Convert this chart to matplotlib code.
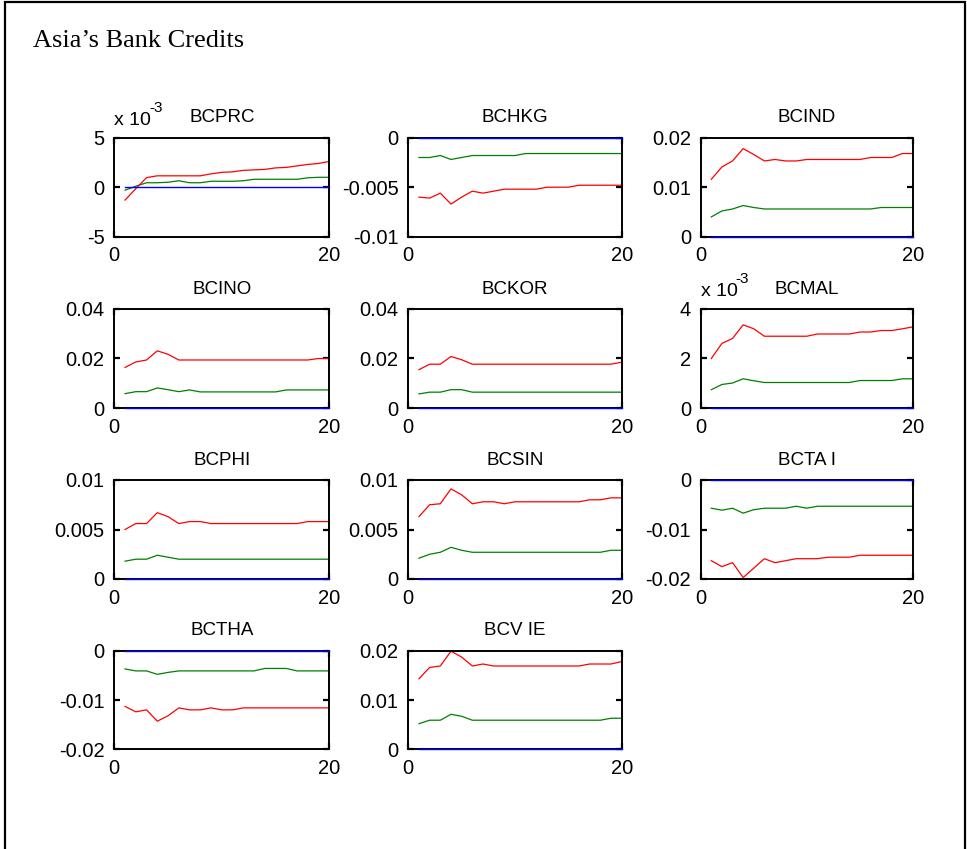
import matplotlib
matplotlib.use('Agg')
import matplotlib.pyplot as plt
from matplotlib.patches import Rectangle

plt.rcParams['font.family'] = ['Liberation Sans', 'DejaVu Sans']

# ---------------- data ----------------
steps = [1, 2, 3, 4, 5, 6, 7, 8, 9, 10, 11, 12, 13, 14, 15, 16, 17, 18, 19, 20]
zero_line = [0, 0, 0, 0, 0, 0, 0, 0, 0, 0, 0, 0, 0, 0, 0, 0, 0, 0, 0, 0]

titles = ['BCPRC', 'BCHKG', 'BCIND', 'BCINO', 'BCKOR', 'BCMAL',
          'BCPHI', 'BCSIN', 'BCTA I', 'BCTHA', 'BCV IE']

bcprc_red = [-0.0013, -0.00015, 0.00097, 0.00115, 0.00115, 0.00115, 0.00115, 0.00115, 0.00135, 0.0015,
             0.00155, 0.0017, 0.00175, 0.0018, 0.00195, 0.002, 0.00215, 0.0023, 0.0024, 0.0026]
bcprc_green = [-0.0003, 0.0001, 0.00045, 0.00045, 0.0005, 0.00065, 0.00045, 0.00045, 0.0006, 0.0006,
               0.0006, 0.00065, 0.0008, 0.0008, 0.0008, 0.0008, 0.0008, 0.00095, 0.001, 0.001]

bchkg_red = [-0.006, -0.0061, -0.0056, -0.0067, -0.006, -0.0054, -0.0056, -0.0054, -0.0052, -0.0052,
             -0.0052, -0.0052, -0.005, -0.005, -0.005, -0.0048, -0.0048, -0.0048, -0.0048, -0.0048]
bchkg_green = [-0.002, -0.002, -0.0018, -0.0022, -0.002, -0.0018, -0.0018, -0.0018, -0.0018, -0.0018,
               -0.0016, -0.0016, -0.0016, -0.0016, -0.0016, -0.0016, -0.0016, -0.0016, -0.0016, -0.0016]

bcind_red = [0.0116, 0.0141, 0.0153, 0.0178, 0.0166, 0.0153, 0.0156, 0.0153, 0.0153, 0.0156,
             0.0156, 0.0156, 0.0156, 0.0156, 0.0156, 0.016, 0.016, 0.016, 0.0168, 0.0168]
bcind_green = [0.004, 0.0052, 0.0056, 0.0063, 0.0059, 0.0056, 0.0056, 0.0056, 0.0056, 0.0056,
               0.0056, 0.0056, 0.0056, 0.0056, 0.0056, 0.0056, 0.0059, 0.0059, 0.0059, 0.0059]

bcino_red = [0.0164, 0.0186, 0.0194, 0.0231, 0.0217, 0.0194, 0.0194, 0.0194, 0.0194, 0.0194,
             0.0194, 0.0194, 0.0194, 0.0194, 0.0194, 0.0194, 0.0194, 0.0194, 0.02, 0.02]
bcino_green = [0.0058, 0.0066, 0.0066, 0.0081, 0.0074, 0.0066, 0.0073, 0.0065, 0.0065, 0.0065,
               0.0065, 0.0065, 0.0065, 0.0065, 0.0065, 0.0073, 0.0073, 0.0073, 0.0073, 0.0073]

bckor_red = [0.0155, 0.0177, 0.0177, 0.0208, 0.0195, 0.0177, 0.0177, 0.0177, 0.0177, 0.0177,
             0.0177, 0.0177, 0.0177, 0.0177, 0.0177, 0.0177, 0.0177, 0.0177, 0.0177, 0.0185]
bckor_green = [0.0057, 0.0064, 0.0064, 0.0074, 0.0074, 0.0064, 0.0064, 0.0064, 0.0064, 0.0064,
               0.0064, 0.0064, 0.0064, 0.0064, 0.0064, 0.0064, 0.0064, 0.0064, 0.0064, 0.0064]

bcmal_red = [0.002, 0.00261, 0.00281, 0.00336, 0.0032, 0.0029, 0.0029, 0.0029, 0.0029, 0.0029,
             0.00299, 0.00299, 0.00299, 0.00299, 0.00307, 0.00307, 0.00313, 0.00313, 0.0032, 0.00328]
bcmal_green = [0.00074, 0.00095, 0.00101, 0.00118, 0.0011, 0.00103, 0.00103, 0.00103, 0.00103, 0.00103,
               0.00103, 0.00103, 0.00103, 0.00103, 0.00111, 0.00111, 0.00111, 0.00111, 0.00118, 0.00118]

bcphi_red = [0.005, 0.0056, 0.0056, 0.0067, 0.0063, 0.0056, 0.0058, 0.0058, 0.0056, 0.0056,
             0.0056, 0.0056, 0.0056, 0.0056, 0.0056, 0.0056, 0.0056, 0.0058, 0.0058, 0.0058]
bcphi_green = [0.0018, 0.002, 0.002, 0.0024, 0.0022, 0.002, 0.002, 0.002, 0.002, 0.002,
               0.002, 0.002, 0.002, 0.002, 0.002, 0.002, 0.002, 0.002, 0.002, 0.002]

bcsin_red = [0.0063, 0.0075, 0.0076, 0.0091, 0.0085, 0.0076, 0.0078, 0.0078, 0.0076, 0.0078,
             0.0078, 0.0078, 0.0078, 0.0078, 0.0078, 0.0078, 0.008, 0.008, 0.0082, 0.0082]
bcsin_green = [0.0021, 0.0025, 0.0027, 0.0032, 0.0029, 0.0027, 0.0027, 0.0027, 0.0027, 0.0027,
               0.0027, 0.0027, 0.0027, 0.0027, 0.0027, 0.0027, 0.0027, 0.0027, 0.0029, 0.0029]

bctai_red = [-0.0163, -0.0175, -0.0167, -0.0197, -0.0178, -0.0159, -0.0167, -0.0163, -0.0159, -0.0159,
             -0.0159, -0.0156, -0.0156, -0.0156, -0.0152, -0.0152, -0.0152, -0.0152, -0.0152, -0.0152]
bctai_green = [-0.0057, -0.0061, -0.0057, -0.0067, -0.006, -0.0057, -0.0057, -0.0057, -0.0053, -0.0057,
               -0.0053, -0.0053, -0.0053, -0.0053, -0.0053, -0.0053, -0.0053, -0.0053, -0.0053, -0.0053]

bctha_red = [-0.0113, -0.0124, -0.012, -0.0143, -0.0132, -0.0116, -0.012, -0.012, -0.0116, -0.012,
             -0.012, -0.0116, -0.0116, -0.0116, -0.0116, -0.0116, -0.0116, -0.0116, -0.0116, -0.0116]
bctha_green = [-0.0037, -0.0041, -0.0041, -0.0048, -0.0044, -0.0041, -0.0041, -0.0041, -0.0041, -0.0041,
               -0.0041, -0.0041, -0.0041, -0.0036, -0.0036, -0.0036, -0.0041, -0.0041, -0.0041, -0.0041]

bcvie_red = [0.0143, 0.0166, 0.0169, 0.0199, 0.0187, 0.0169, 0.0173, 0.0169, 0.0169, 0.0169,
             0.0169, 0.0169, 0.0169, 0.0169, 0.0169, 0.0169, 0.0173, 0.0173, 0.0173, 0.0178]
bcvie_green = [0.0052, 0.0059, 0.0059, 0.0071, 0.0067, 0.0059, 0.0059, 0.0059, 0.0059, 0.0059,
               0.0059, 0.0059, 0.0059, 0.0059, 0.0059, 0.0059, 0.0059, 0.0059, 0.0063, 0.0063]

red_series = [bcprc_red, bchkg_red, bcind_red, bcino_red, bckor_red, bcmal_red,
              bcphi_red, bcsin_red, bctai_red, bctha_red, bcvie_red]
green_series = [bcprc_green, bchkg_green, bcind_green, bcino_green, bckor_green, bcmal_green,
                bcphi_green, bcsin_green, bctai_green, bctha_green, bcvie_green]

y_ticks = [[-0.005, 0, 0.005], [-0.01, -0.005, 0], [0, 0.01, 0.02], [0, 0.02, 0.04],
           [0, 0.02, 0.04], [0, 0.002, 0.004], [0, 0.005, 0.01], [0, 0.005, 0.01],
           [-0.02, -0.01, 0], [-0.02, -0.01, 0], [0, 0.01, 0.02]]
y_tick_labels = [['-5', '0', '5'], ['-0.01', '-0.005', '0'], ['0', '0.01', '0.02'],
                 ['0', '0.02', '0.04'], ['0', '0.02', '0.04'], ['0', '2', '4'],
                 ['0', '0.005', '0.01'], ['0', '0.005', '0.01'], ['-0.02', '-0.01', '0'],
                 ['-0.02', '-0.01', '0'], ['0', '0.01', '0.02']]
exponent_label = [True, False, False, False, False, True, False, False, False, False, False]
x_ticks = [0, 20]
x_tick_labels = ['0', '20']

# ---------------- layout ----------------
W, H = 967, 849
fig = plt.figure(figsize=(W / 100, H / 100), dpi=100)

col_left = [114.3, 408.3, 700.7]
col_width = [215.0, 213.4, 212.3]
row_top = [137.7, 309.0, 480.0, 650.7]
row_bot = [236.7, 408.0, 579.0, 749.3]

for i, title in enumerate(titles):
    r, c = divmod(i, 3)
    left = col_left[c] / W
    bottom = 1 - row_bot[r] / H
    width = col_width[c] / W
    height = (row_bot[r] - row_top[r]) / H
    ax = fig.add_axes([left, bottom, width, height])
    ax.plot(steps, zero_line, color=(0, 0, 1), lw=1.0, zorder=3, clip_on=False)
    ax.plot(steps, green_series[i], color=(0, 0.5, 0), lw=0.9)
    ax.plot(steps, red_series[i], color=(1, 0, 0), lw=0.9)
    ax.set_xlim(0, 20)
    yt = y_ticks[i]
    ax.set_ylim(yt[0], yt[-1])
    ax.set_xticks(x_ticks)
    ax.set_xticklabels(x_tick_labels)
    ax.set_yticks(yt)
    ax.set_yticklabels(y_tick_labels[i])
    ax.tick_params(direction='in', length=4, width=1.6, top=True, right=True,
                   labelsize=14.5, pad=7, colors='black')
    for s in ax.spines.values():
        s.set_linewidth(1.4)
    ax.set_title(title, fontsize=13.5, pad=11)
    if exponent_label[i]:
        ax.text(0.0, 1.13, 'x 10', transform=ax.transAxes, fontsize=14,
                ha='left', va='baseline')
        ax.text(0.165, 1.26, '-3', transform=ax.transAxes, fontsize=11,
                ha='left', va='baseline')

fig.text(33 / W, 1 - 47 / H, 'Asia\u2019s Bank Credits', family='Liberation Serif',
         fontsize=19, ha='left', va='baseline')

fig.patches.append(Rectangle((4.5 / W, -0.05), (965 - 4.5) / W, 1.05 - 2 / H,
                             transform=fig.transFigure, fill=False, edgecolor='black',
                             lw=1.6, clip_on=False))

fig.savefig('out.png', dpi=100, facecolor='white')
